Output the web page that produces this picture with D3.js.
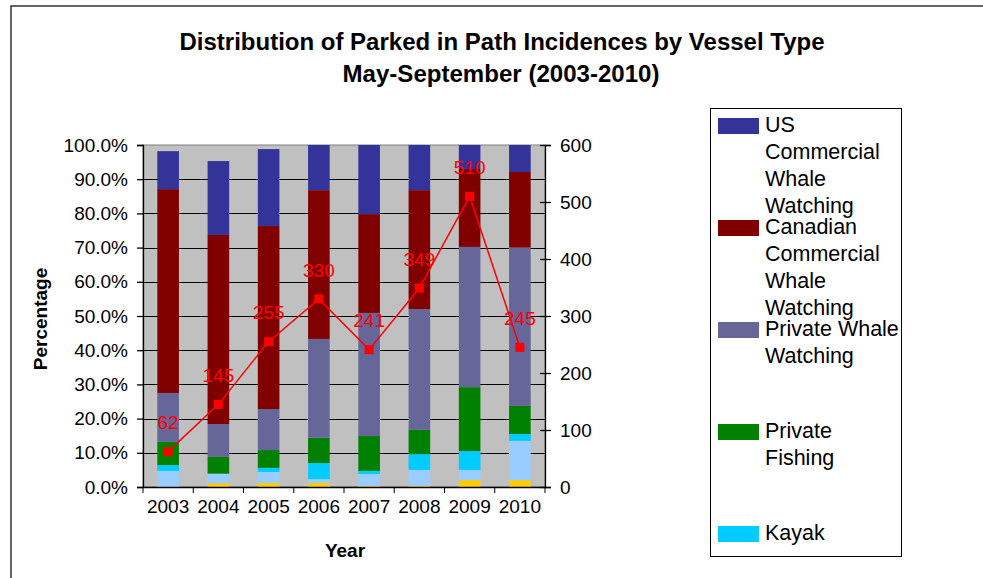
<!DOCTYPE html>
<html><head><meta charset="utf-8">
<script src="https://cdn.jsdelivr.net/npm/d3@7"></script>
<style>
html,body{margin:0;padding:0;background:#fff;}
svg{display:block;font-family:"Liberation Sans",Arial,sans-serif;}
</style></head>
<body><svg id="c" width="983" height="578"></svg>
<script>
const years = ["2003","2004","2005","2006","2007","2008","2009","2010"];
// percentage shares, stacked bottom to top
const other1 = [0.0, 1.1, 1.2, 1.2, 0.3, 0.3, 2.0, 2.0];          // gold
const other2 = [4.7, 2.8, 3.2, 1.1, 3.5, 4.7, 3.0, 11.5];         // light blue
const kayak = [1.7, 0.0, 1.2, 4.7, 0.9, 4.6, 5.5, 2.0];
const privateFishing = [6.8, 4.9, 5.2, 7.4, 10.2, 7.1, 18.7, 8.2];
const privateWhale = [14.3, 9.6, 12.0, 28.9, 36.0, 35.3, 41.0, 46.3];
const canadianCommercial = [59.6, 55.3, 53.5, 43.5, 28.9, 34.8, 22.8, 22.1];
const usCommercial = [11.1, 21.6, 22.5, 13.2, 20.2, 13.2, 7.0, 7.9];
const incidences = [62, 145, 255, 330, 241, 349, 510, 245];
const leftTicks = [0,10,20,30,40,50,60,70,80,90,100];
const rightTicks = [0,100,200,300,400,500,600];

const seriesKeys = ["other1","other2","kayak","privateFishing","privateWhale","canadianCommercial","usCommercial"];
const seriesData = {other1, other2, kayak, privateFishing, privateWhale, canadianCommercial, usCommercial};
const colors = {other1:"#FFCC00", other2:"#99CCFF", kayak:"#00CCFF", privateFishing:"#008000",
  privateWhale:"#666699", canadianCommercial:"#800000", usCommercial:"#333399"};
const legendItems = [
  {key:"usCommercial", lines:["US","Commercial","Whale","Watching"], y:126},
  {key:"canadianCommercial", lines:["Canadian","Commercial","Whale","Watching"], y:228},
  {key:"privateWhale", lines:["Private Whale","Watching"], y:330},
  {key:"privateFishing", lines:["Private","Fishing"], y:432},
  {key:"kayak", lines:["Kayak"], y:534}
];

const svg = d3.select("#c");
const L=143, R=545, T=145, B=487;

// outer frame
svg.append("rect").attr("x",11).attr("y",6).attr("width",990).attr("height",600)
  .attr("fill","#fff").attr("stroke","#333").attr("stroke-width",1.5);

const x = d3.scaleBand().domain(years).range([L,R]).paddingInner(0.57).paddingOuter(0.285);
const xb = d3.scaleBand().domain(years).range([L,R]);
const y = d3.scaleLinear().domain([0,100]).range([B,T]);
const y2 = d3.scaleLinear().domain([0,600]).range([B,T]);

// plot area
svg.append("rect").attr("x",L).attr("y",T).attr("width",R-L).attr("height",B-T)
  .attr("fill","#C0C0C0").attr("stroke","#808080").attr("stroke-width",1);
svg.append("g").selectAll("line").data(leftTicks.filter(d=>d>0&&d<100)).join("line")
  .attr("x1",L).attr("x2",R).attr("y1",d=>Math.round(y(d))+0.5).attr("y2",d=>Math.round(y(d))+0.5)
  .attr("stroke","#000").attr("stroke-width",1);

// stacked bars
const rows = years.map((yr,i)=>{const o={year:yr}; seriesKeys.forEach(k=>o[k]=seriesData[k][i]); return o;});
const stack = d3.stack().keys(seriesKeys)(rows);
svg.append("g").selectAll("g").data(stack).join("g").attr("fill",d=>colors[d.key])
  .selectAll("rect").data(d=>d).join("rect")
  .attr("x",d=>x(d.data.year)).attr("width",x.bandwidth())
  .attr("y",d=>y(d[1])).attr("height",d=>Math.max(0,y(d[0])-y(d[1])));

// axes
const fs = "19px";
const gl = svg.append("g").attr("transform",`translate(${L},0)`)
  .call(d3.axisLeft(y).tickValues(leftTicks).tickFormat(d=>d3.format(".1f")(d)+"%").tickSize(6).tickPadding(9));
const gr = svg.append("g").attr("transform",`translate(${R},0)`)
  .call(d3.axisRight(y2).tickValues(rightTicks).tickSize(6).tickPadding(9));
gr.selectAll(".tick line").attr("x1",-5);
const gx = svg.append("g").attr("transform",`translate(0,${B})`)
  .call(d3.axisBottom(xb).tickSize(0).tickPadding(20));
gx.selectAll(".tick text").attr("dy","0.32em");
svg.append("g").selectAll("line").data(d3.range(years.length+1)).join("line")
  .attr("x1",i=>L+i*xb.step()).attr("x2",i=>L+i*xb.step()).attr("y1",B).attr("y2",B+6)
  .attr("stroke","#000");
[gl,gr,gx].forEach(g=>{
  g.selectAll("text").attr("font-size",fs).attr("font-family","Liberation Sans, Arial, sans-serif").attr("fill","#000");
  g.selectAll("path.domain,line").attr("stroke","#000").attr("stroke-width",1.3);
});

// line series
const cx = d=>xb(d)+xb.bandwidth()/2;
const line = d3.line().x((d,i)=>cx(years[i])).y(d=>y2(d));
svg.append("path").datum(incidences).attr("d",line).attr("fill","none").attr("stroke","#FF0000").attr("stroke-width",1.5);
svg.append("g").selectAll("rect").data(incidences).join("rect")
  .attr("x",(d,i)=>cx(years[i])-4.5).attr("y",d=>y2(d)-4.5).attr("width",9).attr("height",9).attr("fill","#FF0000");
svg.append("g").selectAll("text").data(incidences).join("text")
  .attr("x",(d,i)=>cx(years[i])).attr("y",d=>y2(d)-29).attr("dy","0.35em")
  .attr("text-anchor","middle").attr("font-size","19px").attr("fill","#FF0000").text(d=>d);

// titles
svg.append("text").attr("x",502).attr("y",42).attr("dy","0.35em").attr("text-anchor","middle")
  .attr("font-size","23px").attr("font-weight","bold").attr("textLength",645).attr("lengthAdjust","spacingAndGlyphs")
  .text("Distribution of Parked in Path Incidences by Vessel Type");
svg.append("text").attr("x",501).attr("y",74).attr("dy","0.35em").attr("text-anchor","middle")
  .attr("font-size","23px").attr("font-weight","bold").attr("textLength",317).attr("lengthAdjust","spacingAndGlyphs")
  .text("May-September (2003-2010)");
svg.append("text").attr("transform","translate(40,319) rotate(-90)").attr("dy","0.35em").attr("text-anchor","middle")
  .attr("font-size","19px").attr("font-weight","bold").text("Percentage");
svg.append("text").attr("x",345).attr("y",550).attr("dy","0.35em").attr("text-anchor","middle")
  .attr("font-size","19px").attr("font-weight","bold").text("Year");

// legend
svg.append("rect").attr("x",710.5).attr("y",108.5).attr("width",191).attr("height",448)
  .attr("fill","#fff").attr("stroke","#000").attr("stroke-width",1);
const lg = svg.append("g").selectAll("g").data(legendItems).join("g");
lg.append("rect").attr("x",718).attr("y",d=>d.y-8).attr("width",41).attr("height",16).attr("fill",d=>colors[d.key]);
lg.each(function(d){
  const g = d3.select(this);
  d.lines.forEach((t,j)=>{
    g.append("text").attr("x",765).attr("y",d.y-2+j*27).attr("dy","0.35em")
      .attr("font-size","21.5px").attr("fill","#000").text(t);
  });
});
</script></body></html>
